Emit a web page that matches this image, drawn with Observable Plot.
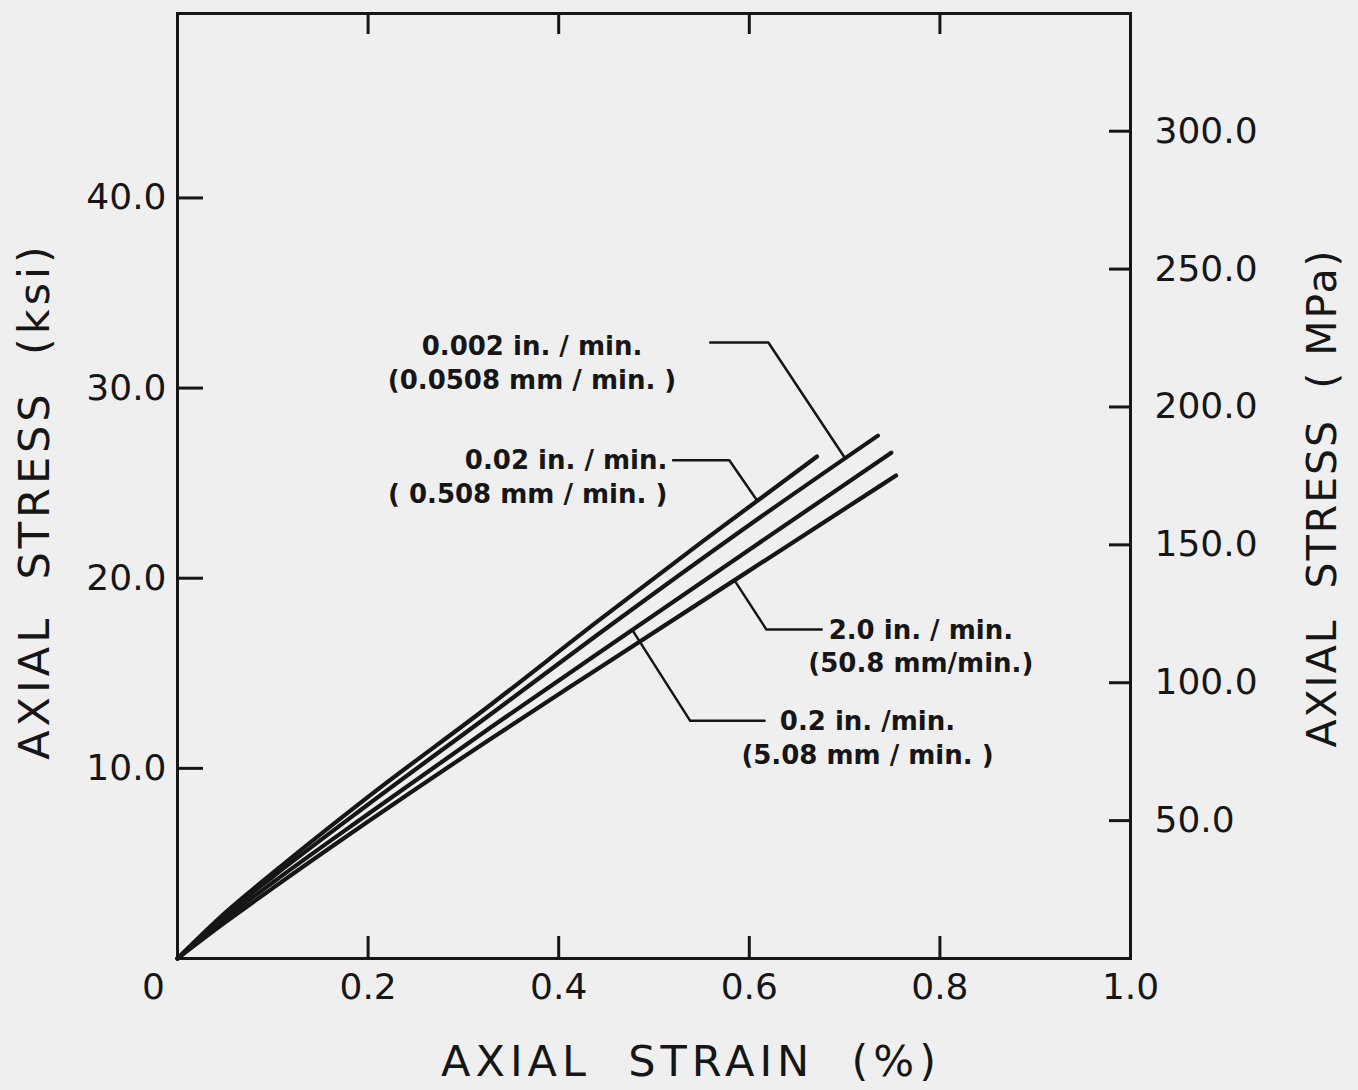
<!DOCTYPE html>
<html>
<head>
<meta charset="utf-8">
<script src="https://cdn.jsdelivr.net/npm/d3@7"></script>
<script src="https://cdn.jsdelivr.net/npm/@observablehq/plot@0.6"></script>
<style>
  html, body { margin: 0; padding: 0; background: #efefef; }
  #chart { width: 1358px; height: 1090px; }
</style>
</head>
<body>
<div id="chart"></div>
<script>
// ---- Data ----
const seriesNames = ["0.02 in./min.", "0.002 in./min.", "0.2 in./min.", "2.0 in./min."];
const strain_002  = [0, 0.05, 0.10, 0.20, 0.33, 0.44, 0.55, 0.671];
const stress_002  = [0, 2.4, 4.5, 8.5, 13.4, 17.7, 21.9, 26.4];     // 0.02 in/min
const strain_0002 = [0, 0.05, 0.10, 0.20, 0.33, 0.44, 0.60, 0.735];
const stress_0002 = [0, 2.3, 4.3, 8.1, 12.9, 17.0, 22.8, 27.5];     // 0.002 in/min
const strain_02   = [0, 0.05, 0.10, 0.20, 0.33, 0.44, 0.60, 0.749];
const stress_02   = [0, 2.1, 4.0, 7.6, 12.2, 16.0, 21.5, 26.6];     // 0.2 in/min
const strain_20   = [0, 0.05, 0.10, 0.20, 0.33, 0.44, 0.60, 0.754];
const stress_20   = [0, 1.9, 3.7, 7.2, 11.6, 15.2, 20.4, 25.4];     // 2.0 in/min

// axis ticks
const xTicks = [0.2, 0.4, 0.6, 0.8];
const xLabelTicks = [0.2, 0.4, 0.6, 0.8, 1.0];
const ksiTicks = [10, 20, 30, 40];
const mpaTicks = [50, 100, 150, 200, 250, 300];
const MPA_PER_KSI = 6.895;

// annotation labels
const labelText = [
  "0.002 in. / min.\n(0.0508 mm / min. )",
  "0.02 in. / min.\n( 0.508 mm / min. )",
  "2.0 in. / min.\n(50.8 mm/min.)",
  "0.2 in. /min.\n(5.08 mm / min. )"
];
const labelStrain = [0.372, 0.514, 0.780, 0.724];
const labelStress = [31.4, 25.4, 16.5, 11.7];
const labelAnchor = ["middle", "end", "middle", "middle"];

// leader lines (strain, ksi) for each label
const leader_0002_x = [0.559, 0.620, 0.700];
const leader_0002_y = [32.4, 32.4, 26.35];
const leader_002_x  = [0.520, 0.579, 0.608];
const leader_002_y  = [26.2, 26.2, 24.1];
const leader_20_x   = [0.585, 0.618, 0.676];
const leader_20_y   = [19.85, 17.3, 17.3];
const leader_02_x   = [0.477, 0.538, 0.616];
const leader_02_y   = [17.3, 12.5, 12.5];

// ---- Build tables ----
const curves = [];
[[strain_002, stress_002], [strain_0002, stress_0002], [strain_02, stress_02], [strain_20, stress_20]]
  .forEach(([xs, ys], i) => xs.forEach((x, j) => curves.push({series: seriesNames[i], strain: x, ksi: ys[j]})));

const leaders = [];
[[leader_0002_x, leader_0002_y], [leader_002_x, leader_002_y], [leader_20_x, leader_20_y], [leader_02_x, leader_02_y]]
  .forEach(([xs, ys], i) => xs.forEach((x, j) => leaders.push({k: i, strain: x, ksi: ys[j]})));

const labels = labelText.map((t, i) => ({text: t, strain: labelStrain[i], ksi: labelStress[i], anchor: labelAnchor[i]}));

const fmt1 = d3.format(".1f");
const ink = "#161616";
const font = "DejaVu Sans";

const chart = Plot.plot({
  width: 1358,
  height: 1090,
  marginLeft: 177,
  marginRight: 228,
  marginTop: 13,
  marginBottom: 132,
  x: {domain: [0, 1]},
  y: {domain: [0, 49.7]},
  style: {background: "transparent", fontFamily: font, color: ink},
  marks: [
    Plot.frame({stroke: ink, strokeWidth: 3}),
    // inward ticks
    Plot.axisX(xTicks, {anchor: "bottom", tickSize: 22, dy: -22, fill: "none", stroke: ink, strokeWidth: 3, label: null}),
    Plot.axisX(xTicks, {anchor: "top", tickSize: 20, dy: 20, fill: "none", stroke: ink, strokeWidth: 3, label: null}),
    Plot.axisY(ksiTicks, {anchor: "left", tickSize: 26, dx: 26, fill: "none", stroke: ink, strokeWidth: 3, label: null}),
    Plot.axisY(mpaTicks.map(m => m / MPA_PER_KSI), {anchor: "right", tickSize: 22, dx: -22, fill: "none", stroke: ink, strokeWidth: 3, label: null}),
    // tick labels
    Plot.axisX(xLabelTicks, {anchor: "bottom", tickSize: 0, tickPadding: 15, fontSize: 36, fill: ink, tickFormat: d => d === 1 ? "1.0" : String(d), label: null}),
    Plot.axisX([0], {anchor: "bottom", tickSize: 0, tickPadding: 15, dx: -24, fontSize: 36, fill: ink, tickFormat: () => "0", label: null}),
    Plot.axisY(ksiTicks, {anchor: "left", tickSize: 0, tickPadding: 11, fontSize: 36, fill: ink, tickFormat: fmt1, label: null}),
    Plot.axisY(mpaTicks.map(m => m / MPA_PER_KSI), {anchor: "right", tickSize: 0, tickPadding: 24, fontSize: 36, fill: ink, tickFormat: d => fmt1(Math.round(d * MPA_PER_KSI)), label: null}),
    // axis titles
    Plot.text(["AXIAL\u00a0\u00a0STRAIN\u00a0\u00a0(%)"], {frameAnchor: "bottom", textAnchor: "middle", dx: 37, dy: 104, fontSize: 43, fill: ink, lineAnchor: "middle"}),
    Plot.text(["AXIAL\u00a0\u00a0STRESS\u00a0\u00a0(ksi)"], {frameAnchor: "left", textAnchor: "middle", dx: -142, dy: 15, rotate: -90, fontSize: 43, fill: ink, lineAnchor: "middle"}),
    Plot.text(["AXIAL\u00a0\u00a0STRESS\u00a0\u00a0(\u00a0MPa)"], {frameAnchor: "right", textAnchor: "middle", dx: 192, dy: 12, rotate: -90, fontSize: 41, fill: ink, lineAnchor: "middle"}),
    // curves
    Plot.line(curves, {x: "strain", y: "ksi", z: "series", curve: "monotone-x", stroke: ink, strokeWidth: 4.2}),
    // leaders
    Plot.line(leaders, {x: "strain", y: "ksi", z: "k", stroke: ink, strokeWidth: 2.5}),
    // annotation labels
    Plot.text(labels.filter(d => d.anchor === "middle"), {x: "strain", y: "ksi", text: "text", textAnchor: "middle", lineAnchor: "middle", lineHeight: 1.3, fontSize: 26, fontWeight: "bold", fill: ink}),
    Plot.text(labels.filter(d => d.anchor === "end"), {x: "strain", y: "ksi", text: "text", textAnchor: "end", lineAnchor: "middle", lineHeight: 1.3, fontSize: 26, fontWeight: "bold", fill: ink})
  ]
});

const svg = d3.select(chart);
svg.selectAll("text").filter(function() { return this.textContent.includes("STRAIN"); }).attr("letter-spacing", 5);
svg.selectAll("text").filter(function() { return this.textContent.includes("ksi"); }).attr("letter-spacing", 4);
svg.selectAll("text").filter(function() { return this.textContent.includes("MPa"); }).attr("letter-spacing", 2);

document.getElementById("chart").appendChild(chart);
</script>
</body>
</html>
